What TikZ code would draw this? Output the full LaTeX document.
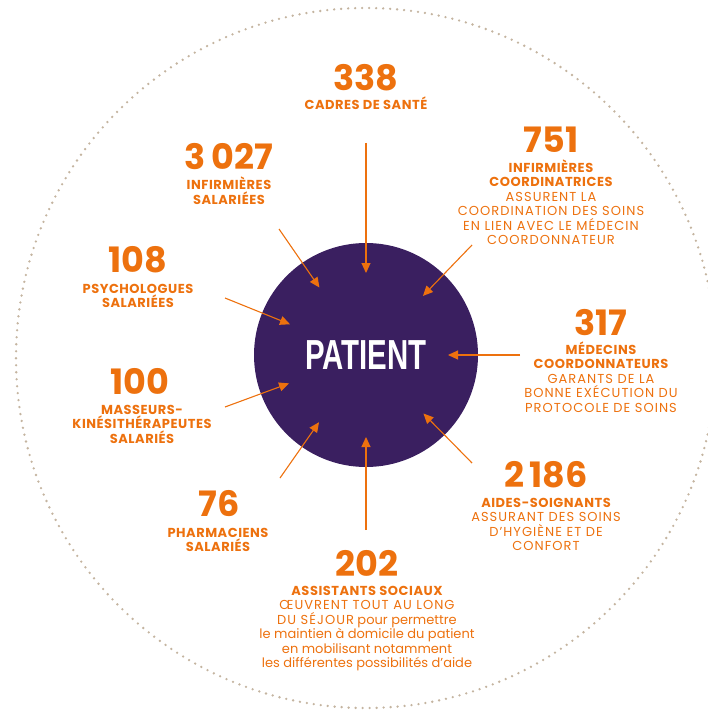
\documentclass[tikz,border=0pt]{standalone}
\usepackage{fontspec}
\setmainfont{Poppins}
\newfontfamily\patientfont{Liberation Sans}
\usetikzlibrary{arrows.meta}
\definecolor{ehpadorange}{RGB}{237,113,14}
\definecolor{ehpadpurple}{RGB}{58,31,96}
\definecolor{dotgrey}{RGB}{196,180,160}
\newcommand\titre[1]{{\bfseries\addfontfeature{LetterSpace=4}#1}}
\newcommand\desc[1]{{\addfontfeature{LetterSpace=8}#1}}
\tikzset{
  chiffre/.style={anchor=base, inner sep=0pt, text=ehpadorange, font=\fontsize{35}{35}\selectfont\bfseries},
  metier/.style={anchor=base, inner sep=0pt, align=center, text=ehpadorange, font=\fontsize{13}{14.5}\selectfont},
  fleche/.style={draw=ehpadorange, line width=1.1pt, -{Triangle[length=10pt,width=9pt]}, shorten >=82pt},
}
\begin{document}
\begin{tikzpicture}[x=1pt,y=-1pt]
\useasboundingbox (0,0) rectangle (708,711);
\draw[dotgrey, line width=2.6pt, line cap=round, dash pattern=on 0pt off 7.003pt] (366,358) circle[radius=350];
\node[circle, fill=ehpadpurple, minimum size=224pt, inner sep=0pt] (patient) at (366,355)
  {\scalebox{0.7}[1]{\patientfont\bfseries\fontsize{42}{42}\selectfont\color{white}PATIENT}};

% chiffres et metiers (base = ligne du bas)
\node[chiffre] (n338) at (366,91) {338};
\node[metier] (t338) at (366,110) {\titre{CADRES DE SANTÉ}};
\node[chiffre] (n3027) at (229,170) {3\,027};
\node[metier] (t3027) at (229,204.5) {\titre{INFIRMIÈRES}\\\titre{SALARIÉES}};
\node[chiffre] (n751) at (551,153) {751};
\node[metier] (t751) at (551,244.5) {\titre{INFIRMIÈRES}\\\titre{COORDINATRICES}\\\desc{ASSURENT LA}\\\desc{COORDINATION DES SOINS}\\\desc{EN LIEN AVEC LE MÉDECIN}\\\desc{COORDONNATEUR}};
\node[chiffre] (n108) at (138,272) {108};
\node[metier] (t108) at (138,307.5) {\titre{PSYCHOLOGUES}\\\titre{SALARIÉES}};
\node[chiffre] (n100) at (140,394) {100};
\node[metier] (t100) at (142,443) {\titre{MASSEURS-}\\\titre{KINÉSITHÉRAPEUTES}\\\titre{SALARIÉS}};
\node[chiffre] (n76) at (219,516) {76};
\node[metier] (t76) at (218,551.5) {\titre{PHARMACIENS}\\\titre{SALARIÉS}};
\node[chiffre] (n202) at (367,576) {202};
\node[metier] (t202) at (367,667.5) {\titre{ASSISTANTS SOCIAUX}\\\desc{ŒUVRENT TOUT AU LONG}\\\desc{DU SÉJOUR} pour permettre\\le maintien à domicile du patient\\en mobilisant notamment\\les différentes possibilités d’aide};
\node[chiffre] (n317) at (601,335) {317};
\node[metier] (t317) at (601,412) {\titre{MÉDECINS}\\\titre{COORDONNATEURS}\\\desc{GARANTS DE LA}\\\desc{BONNE EXÉCUTION DU}\\\desc{PROTOCOLE DE SOINS}};
\node[chiffre] (n2186) at (546,487) {2\,186};
\node[metier] (t2186) at (546,550.5) {\titre{AIDES-SOIGNANTS}\\\desc{ASSURANT DES SOINS}\\\desc{D’HYGIÈNE ET DE}\\\desc{CONFORT}};

\coordinate (d338) at (366,143);
\coordinate (d751) at (472,245);
\coordinate (d317) at (520,355);
\coordinate (d2186) at (472,463);
\coordinate (d202) at (366,530);
\coordinate (d76) at (280,478);
\coordinate (d100) at (225,407);
\coordinate (d108) at (225,298);
\coordinate (d3027) at (279,229);
\draw[fleche] (d338) -- (patient.center);
\draw[fleche] (d751) -- (patient.center);
\draw[fleche] (d317) -- (patient.center);
\draw[fleche] (d2186) -- (patient.center);
\draw[fleche] (d202) -- (patient.center);
\draw[fleche] (d76) -- (patient.center);
\draw[fleche] (d100) -- (patient.center);
\draw[fleche] (d108) -- (patient.center);
\draw[fleche] (d3027) -- (patient.center);
\end{tikzpicture}
\end{document}
